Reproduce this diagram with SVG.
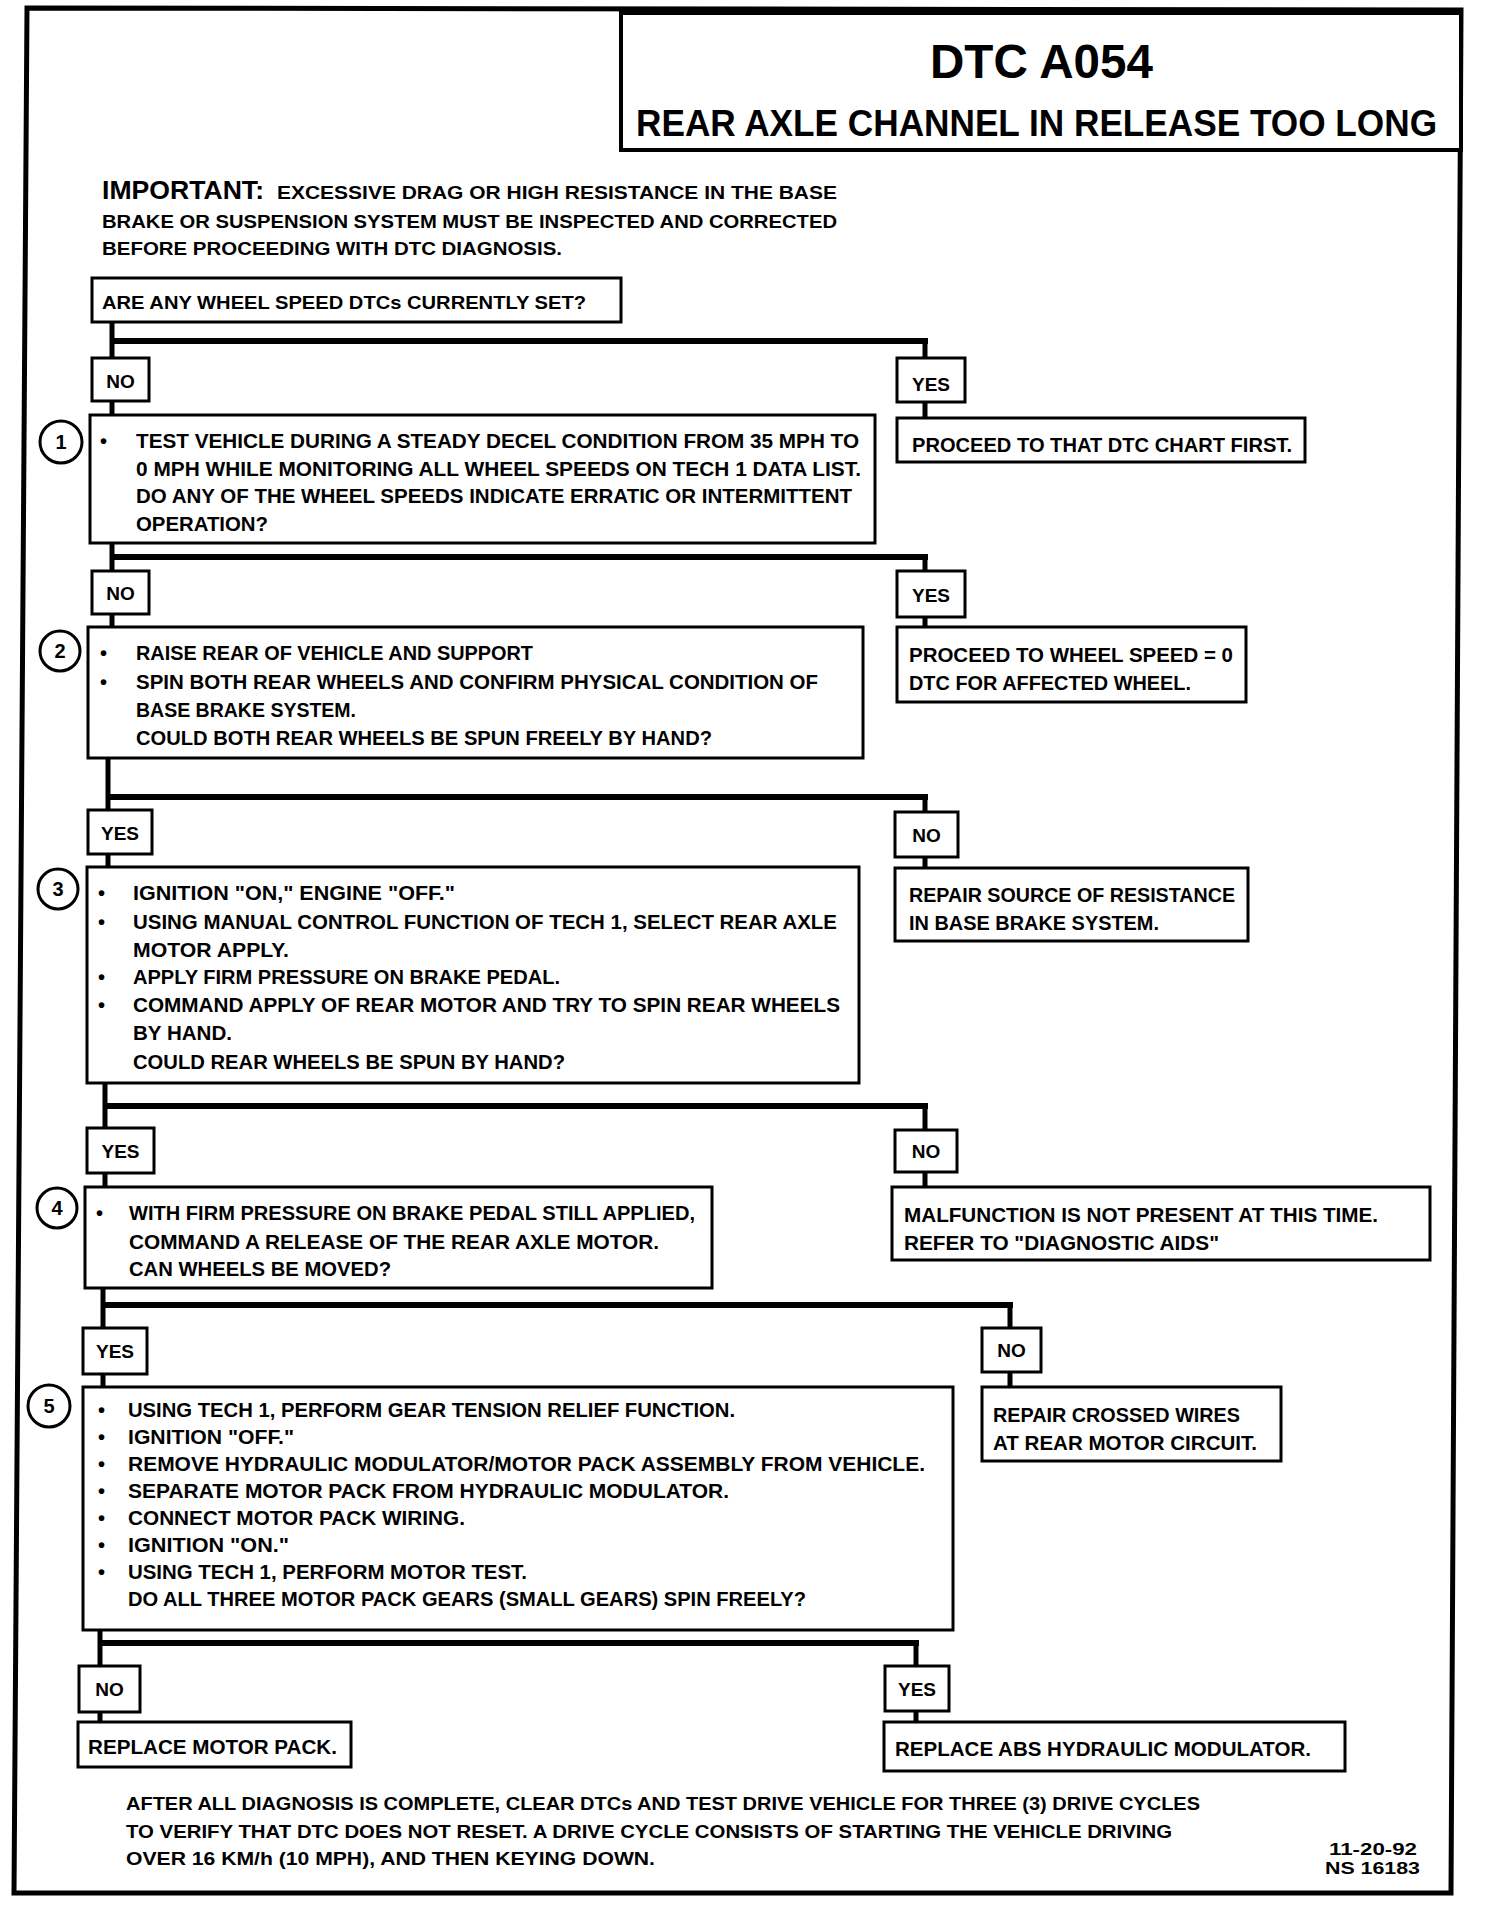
<svg xmlns="http://www.w3.org/2000/svg" width="1488" height="1906" viewBox="0 0 1488 1906">
<style>
.bx{fill:#fff;stroke:#000;stroke-width:3}
.t{font-family:"Liberation Sans",Arial,sans-serif;font-weight:bold;font-size:20px;fill:#000}
.lb{font-family:"Liberation Sans",Arial,sans-serif;font-weight:bold;font-size:19px;fill:#000;text-anchor:middle}
.num{font-family:"Liberation Sans",Arial,sans-serif;font-weight:bold;font-size:20px;fill:#000;text-anchor:middle}
.cir{fill:#fff;stroke:#000;stroke-width:3}
.h{stroke:#000;stroke-width:6;fill:none}
.v{stroke:#000;stroke-width:5;fill:none}
</style>
<rect width="1488" height="1906" fill="#fff"/>
<path d="M27,8 L1461,10 L1451,1893 L14,1893 Z" fill="none" stroke="#000" stroke-width="5"/>

<g id="title">
<rect x="621" y="13" width="840" height="137" fill="#fff" stroke="#000" stroke-width="4"/>
<text class="t" x="930" y="78" style="font-size:48px" textLength="223" lengthAdjust="spacingAndGlyphs">DTC A054</text>
<text class="t" x="636" y="136" style="font-size:36px" textLength="801" lengthAdjust="spacingAndGlyphs">REAR AXLE CHANNEL IN RELEASE TOO LONG</text>
</g>

<g id="important">
<text class="t" x="102" y="199" style="font-size:25px" textLength="162" lengthAdjust="spacingAndGlyphs">IMPORTANT:</text>
<text class="t" x="277" y="199" style="font-size:18px" textLength="560" lengthAdjust="spacingAndGlyphs">EXCESSIVE DRAG OR HIGH RESISTANCE IN THE BASE</text>
<text class="t" x="102" y="228" style="font-size:18px" textLength="735" lengthAdjust="spacingAndGlyphs">BRAKE OR SUSPENSION SYSTEM MUST BE INSPECTED AND CORRECTED</text>
<text class="t" x="102" y="255" style="font-size:18px" textLength="460" lengthAdjust="spacingAndGlyphs">BEFORE PROCEEDING WITH DTC DIAGNOSIS.</text>
</g>

<g id="connectors">
<path class="v" d="M112,322 V360 M112,400 V415"/>
<path class="h" d="M110,341 H928"/>
<path class="v" d="M925,341 V358 M925,402 V418"/>
<path class="v" d="M112,543 V571 M112,614 V627"/>
<path class="h" d="M110,557 H928"/>
<path class="v" d="M925,557 V571 M925,617 V627"/>
<path class="v" d="M108,758 V810 M108,854 V867"/>
<path class="h" d="M106,797 H928"/>
<path class="v" d="M925,797 V812 M925,857 V868"/>
<path class="v" d="M105,1083 V1128 M105,1173 V1187"/>
<path class="h" d="M103,1106 H928"/>
<path class="v" d="M925,1106 V1130 M925,1172 V1187"/>
<path class="v" d="M103,1288 V1328 M103,1374 V1387"/>
<path class="h" d="M101,1305 H1013"/>
<path class="v" d="M1010,1305 V1328 M1010,1372 V1387"/>
<path class="v" d="M100,1630 V1666 M100,1712 V1722"/>
<path class="h" d="M98,1643 H919"/>
<path class="v" d="M916,1643 V1666 M916,1711 V1722"/>
</g>

<g id="q0">
<rect class="bx" x="92" y="278" width="529" height="44"/>
<text class="t" x="102" y="309" style="font-size:19px" textLength="484" lengthAdjust="spacingAndGlyphs">ARE ANY WHEEL SPEED DTCs CURRENTLY SET?</text>
</g>

<g id="no1"><rect class="bx" x="92" y="358" width="57" height="43"/><text class="lb" x="120.5" y="388">NO</text></g>
<g id="yes1"><rect class="bx" x="897" y="358" width="68" height="44"/><text class="lb" x="931" y="391">YES</text></g>

<g id="step1">
<rect class="bx" x="90" y="415" width="785" height="128"/>
<circle class="cir" cx="61" cy="442" r="21"/><text class="num" x="61" y="449">1</text>
<text class="t" x="100" y="448">•</text>
<text class="t" x="136" y="448" textLength="723" lengthAdjust="spacingAndGlyphs">TEST VEHICLE DURING A STEADY DECEL CONDITION FROM 35 MPH TO</text>
<text class="t" x="136" y="476" textLength="725" lengthAdjust="spacingAndGlyphs">0 MPH WHILE MONITORING ALL WHEEL SPEEDS ON TECH 1 DATA LIST.</text>
<text class="t" x="136" y="503" textLength="716" lengthAdjust="spacingAndGlyphs">DO ANY OF THE WHEEL SPEEDS INDICATE ERRATIC OR INTERMITTENT</text>
<text class="t" x="136" y="531" textLength="132" lengthAdjust="spacingAndGlyphs">OPERATION?</text>
</g>

<g id="res1">
<rect class="bx" x="897" y="418" width="408" height="44"/>
<text class="t" x="912" y="452" textLength="380" lengthAdjust="spacingAndGlyphs">PROCEED TO THAT DTC CHART FIRST.</text>
</g>

<g id="no2"><rect class="bx" x="92" y="571" width="57" height="43"/><text class="lb" x="120.5" y="600">NO</text></g>
<g id="yes2"><rect class="bx" x="897" y="571" width="68" height="46"/><text class="lb" x="931" y="602">YES</text></g>

<g id="step2">
<rect class="bx" x="88" y="627" width="775" height="131"/>
<circle class="cir" cx="60" cy="651" r="20"/><text class="num" x="60" y="658">2</text>
<text class="t" x="100" y="660">•</text>
<text class="t" x="136" y="660" textLength="397" lengthAdjust="spacingAndGlyphs">RAISE REAR OF VEHICLE AND SUPPORT</text>
<text class="t" x="100" y="689">•</text>
<text class="t" x="136" y="689" textLength="682" lengthAdjust="spacingAndGlyphs">SPIN BOTH REAR WHEELS AND CONFIRM PHYSICAL CONDITION OF</text>
<text class="t" x="136" y="717" textLength="220" lengthAdjust="spacingAndGlyphs">BASE BRAKE SYSTEM.</text>
<text class="t" x="136" y="745" textLength="576" lengthAdjust="spacingAndGlyphs">COULD BOTH REAR WHEELS BE SPUN FREELY BY HAND?</text>
</g>

<g id="res2">
<rect class="bx" x="897" y="627" width="349" height="75"/>
<text class="t" x="909" y="662" textLength="324" lengthAdjust="spacingAndGlyphs">PROCEED TO WHEEL SPEED = 0</text>
<text class="t" x="909" y="690" textLength="282" lengthAdjust="spacingAndGlyphs">DTC FOR AFFECTED WHEEL.</text>
</g>

<g id="yes3"><rect class="bx" x="88" y="810" width="64" height="44"/><text class="lb" x="120" y="840">YES</text></g>
<g id="no3"><rect class="bx" x="895" y="812" width="63" height="45"/><text class="lb" x="926.5" y="842">NO</text></g>

<g id="step3">
<rect class="bx" x="87" y="867" width="772" height="216"/>
<circle class="cir" cx="58" cy="889" r="20"/><text class="num" x="58" y="896">3</text>
<text class="t" x="98" y="900">•</text>
<text class="t" x="133" y="900" textLength="322" lengthAdjust="spacingAndGlyphs">IGNITION "ON," ENGINE "OFF."</text>
<text class="t" x="98" y="929">•</text>
<text class="t" x="133" y="929" textLength="704" lengthAdjust="spacingAndGlyphs">USING MANUAL CONTROL FUNCTION OF TECH 1, SELECT REAR AXLE</text>
<text class="t" x="133" y="957" textLength="156" lengthAdjust="spacingAndGlyphs">MOTOR APPLY.</text>
<text class="t" x="98" y="984">•</text>
<text class="t" x="133" y="984" textLength="427" lengthAdjust="spacingAndGlyphs">APPLY FIRM PRESSURE ON BRAKE PEDAL.</text>
<text class="t" x="98" y="1012">•</text>
<text class="t" x="133" y="1012" textLength="707" lengthAdjust="spacingAndGlyphs">COMMAND APPLY OF REAR MOTOR AND TRY TO SPIN REAR WHEELS</text>
<text class="t" x="133" y="1040" textLength="99" lengthAdjust="spacingAndGlyphs">BY HAND.</text>
<text class="t" x="133" y="1069" textLength="432" lengthAdjust="spacingAndGlyphs">COULD REAR WHEELS BE SPUN BY HAND?</text>
</g>

<g id="res3">
<rect class="bx" x="895" y="868" width="353" height="73"/>
<text class="t" x="909" y="902" textLength="326" lengthAdjust="spacingAndGlyphs">REPAIR SOURCE OF RESISTANCE</text>
<text class="t" x="909" y="930" textLength="250" lengthAdjust="spacingAndGlyphs">IN BASE BRAKE SYSTEM.</text>
</g>

<g id="yes4"><rect class="bx" x="87" y="1128" width="67" height="45"/><text class="lb" x="120.5" y="1158">YES</text></g>
<g id="no4"><rect class="bx" x="895" y="1130" width="62" height="42"/><text class="lb" x="926" y="1158">NO</text></g>

<g id="step4">
<rect class="bx" x="85" y="1187" width="627" height="101"/>
<circle class="cir" cx="57" cy="1208" r="20"/><text class="num" x="57" y="1215">4</text>
<text class="t" x="96" y="1220">•</text>
<text class="t" x="129" y="1220" textLength="566" lengthAdjust="spacingAndGlyphs">WITH FIRM PRESSURE ON BRAKE PEDAL STILL APPLIED,</text>
<text class="t" x="129" y="1249" textLength="530" lengthAdjust="spacingAndGlyphs">COMMAND A RELEASE OF THE REAR AXLE MOTOR.</text>
<text class="t" x="129" y="1276" textLength="262" lengthAdjust="spacingAndGlyphs">CAN WHEELS BE MOVED?</text>
</g>

<g id="res4">
<rect class="bx" x="892" y="1187" width="538" height="73"/>
<text class="t" x="904" y="1222" textLength="474" lengthAdjust="spacingAndGlyphs">MALFUNCTION IS NOT PRESENT AT THIS TIME.</text>
<text class="t" x="904" y="1250" textLength="315" lengthAdjust="spacingAndGlyphs">REFER TO "DIAGNOSTIC AIDS"</text>
</g>

<g id="yes5"><rect class="bx" x="83" y="1328" width="64" height="46"/><text class="lb" x="115" y="1358">YES</text></g>
<g id="no5"><rect class="bx" x="982" y="1328" width="59" height="44"/><text class="lb" x="1011.5" y="1357">NO</text></g>

<g id="step5">
<rect class="bx" x="83" y="1387" width="870" height="243"/>
<circle class="cir" cx="49" cy="1406" r="21"/><text class="num" x="49" y="1413">5</text>
<text class="t" x="98" y="1417">•</text>
<text class="t" x="128" y="1417" textLength="607" lengthAdjust="spacingAndGlyphs">USING TECH 1, PERFORM GEAR TENSION RELIEF FUNCTION.</text>
<text class="t" x="98" y="1444">•</text>
<text class="t" x="128" y="1444" textLength="166" lengthAdjust="spacingAndGlyphs">IGNITION "OFF."</text>
<text class="t" x="98" y="1471">•</text>
<text class="t" x="128" y="1471" textLength="797" lengthAdjust="spacingAndGlyphs">REMOVE HYDRAULIC MODULATOR/MOTOR PACK ASSEMBLY FROM VEHICLE.</text>
<text class="t" x="98" y="1498">•</text>
<text class="t" x="128" y="1498" textLength="601" lengthAdjust="spacingAndGlyphs">SEPARATE MOTOR PACK FROM HYDRAULIC MODULATOR.</text>
<text class="t" x="98" y="1525">•</text>
<text class="t" x="128" y="1525" textLength="337" lengthAdjust="spacingAndGlyphs">CONNECT MOTOR PACK WIRING.</text>
<text class="t" x="98" y="1552">•</text>
<text class="t" x="128" y="1552" textLength="161" lengthAdjust="spacingAndGlyphs">IGNITION "ON."</text>
<text class="t" x="98" y="1579">•</text>
<text class="t" x="128" y="1579" textLength="399" lengthAdjust="spacingAndGlyphs">USING TECH 1, PERFORM MOTOR TEST.</text>
<text class="t" x="128" y="1606" textLength="678" lengthAdjust="spacingAndGlyphs">DO ALL THREE MOTOR PACK GEARS (SMALL GEARS) SPIN FREELY?</text>
</g>

<g id="res5">
<rect class="bx" x="982" y="1387" width="299" height="74"/>
<text class="t" x="993" y="1422" textLength="247" lengthAdjust="spacingAndGlyphs">REPAIR CROSSED WIRES</text>
<text class="t" x="993" y="1450" textLength="264" lengthAdjust="spacingAndGlyphs">AT REAR MOTOR CIRCUIT.</text>
</g>

<g id="no6"><rect class="bx" x="79" y="1666" width="61" height="46"/><text class="lb" x="109.5" y="1696">NO</text></g>
<g id="yes6"><rect class="bx" x="885" y="1666" width="64" height="45"/><text class="lb" x="917" y="1696">YES</text></g>

<g id="res6a">
<rect class="bx" x="78" y="1722" width="273" height="45"/>
<text class="t" x="88" y="1754" textLength="249" lengthAdjust="spacingAndGlyphs">REPLACE MOTOR PACK.</text>
</g>
<g id="res6b">
<rect class="bx" x="884" y="1722" width="461" height="49"/>
<text class="t" x="895" y="1756" textLength="416" lengthAdjust="spacingAndGlyphs">REPLACE ABS HYDRAULIC MODULATOR.</text>
</g>

<g id="footer">
<text class="t" x="126" y="1810" style="font-size:19px" textLength="1074" lengthAdjust="spacingAndGlyphs">AFTER ALL DIAGNOSIS IS COMPLETE, CLEAR DTCs AND TEST DRIVE VEHICLE FOR THREE (3) DRIVE CYCLES</text>
<text class="t" x="126" y="1838" style="font-size:19px" textLength="1046" lengthAdjust="spacingAndGlyphs">TO VERIFY THAT DTC DOES NOT RESET.  A DRIVE CYCLE CONSISTS OF STARTING THE VEHICLE DRIVING</text>
<text class="t" x="126" y="1865" style="font-size:19px" textLength="529" lengthAdjust="spacingAndGlyphs">OVER 16 KM/h (10 MPH), AND THEN KEYING DOWN.</text>
<text class="t" x="1329" y="1855" style="font-size:16px" textLength="88" lengthAdjust="spacingAndGlyphs">11-20-92</text>
<text class="t" x="1325" y="1874" style="font-size:16px" textLength="95" lengthAdjust="spacingAndGlyphs">NS 16183</text>
</g>
</svg>
